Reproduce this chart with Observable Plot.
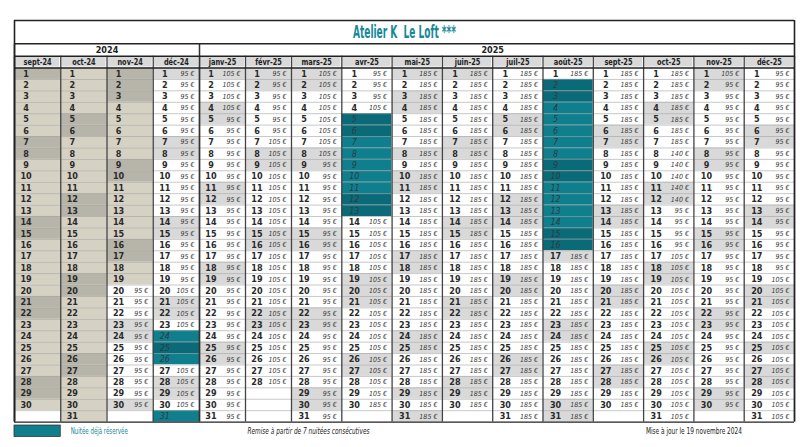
<!DOCTYPE html>
<html>
<head>
<meta charset="utf-8">
<script src="https://cdn.jsdelivr.net/npm/d3@7"></script>
<script src="https://cdn.jsdelivr.net/npm/@observablehq/plot@0.6"></script>
<style>
  body { margin: 0; background: #fff; }
  svg { display: block; }
</style>
</head>
<body>
<div id="chart"></div>
<script>
// ---------- DATA ----------
const title = "Atelier K  Le Loft ***";
const years = ["2024", "2025"];
const months = ["sept-24","oct-24","nov-24","déc-24","janv-25","févr-25","mars-25","avr-25",
                "mai-25","juin-25","juil-25","août-25","sept-25","oct-25","nov-25","déc-25"];
const daysInMonth = [30,31,30,31,31,28,31,30,31,30,31,31,30,31,30,31];
// days already past at the update date (greyed beige)
const pastDays = [30,31,19,0,0,0,0,0,0,0,0,0,0,0,0,0];
// weekend / holiday shaded days per month
const shadedDays = [
  [1,7,8,14,15,21,22,28,29],
  [5,6,12,13,19,20,26,27],
  [1,2,3,9,10,16,17,23,24,30],
  [1,7,8,14,15,21,22,25,28,29],
  [1,4,5,11,12,18,19,25,26],
  [1,2,8,9,15,16,22,23],
  [1,2,8,9,15,16,22,23,29,30],
  [5,6,12,13,19,20,21,26,27],
  [1,3,4,8,10,11,17,18,24,25,29,31],
  [1,7,8,14,15,21,22,28,29],
  [5,6,12,13,14,19,20,26,27],
  [2,3,9,10,15,16,17,23,24,30,31],
  [6,7,13,14,20,21,27,28],
  [4,5,11,12,18,19,25,26],
  [1,2,8,9,15,16,22,23,29,30],
  [6,7,13,14,20,21,25,27,28]
];
// nights already booked
const bookedDays = [
  [], [], [], [24,25,26,31], [], [], [], [5,6,7,8,9,10,11,12,13],
  [], [], [], [2,3,4,5,6,7,8,9,10,11,12,13,14,15,16], [], [], [], []
];
// nightly price (€) per day
const pricesSep24 = [];
const pricesOct24 = [];
const pricesNov24 = [null,null,null,null,null, null,null,null,null,null, null,null,null,null,null, null,null,null,null,
  95,95,95,95,95, 95,95,95,95,95, 95];
const pricesDec24 = [95,95,95,95,95, 95,95,95,95,95, 95,95,95,95,95, 95,95,95,95,
  105,105,105,105, null,null,null, 105,105,105,105, null];
const pricesJan25 = [105,105,105,105,
  95,95,95,95,95, 95,95,95,95,95, 95,95,95,95,95, 95,95,95,95,95, 95,95,95,95,95, 95,95];
const pricesFeb25 = [95,95,95,95,95,95,
  105,105,105,105,105, 105,105,105,105,105, 105,105,105,105,105, 105,105,105,105,105, 105,105];
const pricesMar25 = [105,105,105,105,105,105,105,105,
  95,95,95,95,95, 95,95,95,95,95, 95,95,95,95,95, 95,95,95,95,95, 95,95,95];
const pricesApr25 = [95,95,95,105,
  null,null,null,null,null,null,null,null,null,
  105,105,105,105,105, 105,105,105,105,105, 105,105,105,105,105, 105,
  185];
const pricesMay25 = [185,185,185,185,185, 185,185,185,185,185, 185,185,185,185,185,
  185,185,185,185,185, 185,185,185,185,185, 185,185,185,185,185, 185];
const pricesJun25 = [185,185,185,185,185, 185,185,185,185,185, 185,185,185,185,185,
  185,185,185,185,185, 185,185,185,185,185, 185,185,185,185,185];
const pricesJul25 = [185,185,185,185,185, 185,185,185,185,185, 185,185,185,185,185,
  185,185,185,185,185, 185,185,185,185,185, 185,185,185,185,185, 185];
const pricesAug25 = [185,
  null,null,null,null,null, null,null,null,null,null, null,null,null,null,null,
  185,185,185,185,185, 185,185,185,185,185, 185,185,185,185,185];
const pricesSep25 = [185,185,185,185,185, 185,185,185,185,185, 185,185,185,185,185,
  185,185,185,185,185, 185,185,185,185,185, 185,185,185,185,185];
const pricesOct25 = [185,185,185,185,185,185,185,
  140,140,140,140,140,
  95,95,95,95,
  105,105,105,105,105, 105,105,105,105,105, 105,105,105,105,105];
const pricesNov25 = [105,
  95,95,95,95,95, 95,95,95,95,95, 95,95,95,95,95, 95,95,95,95,95, 95,95,95,95,95, 95,95,95,95];
const pricesDec25 = [95,95,95,95,95, 95,95,95,95,95, 95,95,95,95,95, 95,95,95,
  105,105,105,105,105, 105,105,105,105,105, 105,105,105];
const prices = [pricesSep24, pricesOct24, pricesNov24, pricesDec24, pricesJan25, pricesFeb25,
  pricesMar25, pricesApr25, pricesMay25, pricesJun25, pricesJul25, pricesAug25,
  pricesSep25, pricesOct25, pricesNov25, pricesDec25];

const legendLabel = "Nuitée déjà réservée";
const noteText = "Remise à partir de 7 nuitées consécutives";
const updateText = "Mise à jour le 19 novembre 2024";

// ---------- STYLE ----------
const stateColors = {
  none: "#ffffff", past: "#d5d1c3", pastShaded: "#b7b5a9",
  free: "#ffffff", freeShaded: "#d9d9d9",
  booked: "#0f7f8e", bookedShaded: "#0b6a78"
};
const teal = "#17889a";
const font = '"Liberation Sans Narrow","DejaVu Sans Condensed","Arial Narrow",sans-serif';

// ---------- BUILD ----------
const cells = [];
months.forEach((m, i) => {
  for (let d = 1; d <= 31; d++) {
    let state;
    if (d > daysInMonth[i]) state = "none";
    else {
      const sh = shadedDays[i].includes(d);
      if (d <= pastDays[i]) state = sh ? "pastShaded" : "past";
      else if (bookedDays[i].includes(d)) state = sh ? "bookedShaded" : "booked";
      else state = sh ? "freeShaded" : "free";
    }
    const p = prices[i][d - 1];
    cells.push({m: i, day: d, state, price: (p === undefined ? null : p)});
  }
});
const dayCells = cells.filter(c => c.state !== "none");
const plainDays = dayCells.filter(c => !c.state.startsWith("booked"));
const bookedCells = dayCells.filter(c => c.state.startsWith("booked"));
const priceCells = dayCells.filter(c => c.price != null);

const yearSpans = years.map(y => {
  const idx = months.map((m, i) => m.endsWith(y.slice(2)) ? i : -1).filter(i => i >= 0);
  return {year: y, x1: idx[0], x2: idx[idx.length - 1] + 1};
});
const monthEdges = d3.range(months.length + 1);
const rowEdges = d3.range(1, 31);

const chart = Plot.plot({
  width: 810,
  height: 447,
  margin: 0,
  style: {fontFamily: font, background: "#fff"},
  x: {type: "linear", domain: [0, 4, 6, 16], range: [14, 199, 291, 794], axis: null},
  y: {type: "linear", domain: [-4, -2, -1, 0, 31], range: [20, 43.3, 55.7, 67.5, 421.6], axis: null},
  color: {domain: Object.keys(stateColors), range: Object.values(stateColors)},
  marks: [
    // day cells
    Plot.rect(cells, {x1: "m", x2: d => d.m + 1, y1: d => d.day - 1, y2: "day", fill: "state"}),
    // row separators
    Plot.ruleY(rowEdges, {x1: 0, x2: 16, stroke: "#a3a3a3", strokeWidth: 0.6}),
    // month header cells
    Plot.rect(months, {x1: (d, i) => i, x2: (d, i) => i + 1, y1: -1, y2: 0, fill: "#d9d9d9", inset: 1}),
    Plot.text(months, {x: (d, i) => i + 0.5, y: -0.5, text: d => d, fontWeight: "bold", fontSize: 8.5, fill: "#222", className: "fit-month"}),
    // years
    Plot.text(yearSpans, {x: d => (d.x1 + d.x2) / 2, y: -1.5, text: "year", fontWeight: "bold", fontSize: 9, fill: "#222"}),
    // title
    Plot.text([title], {y: -3, frameAnchor: "middle", dx: -1, text: d => d, fontWeight: "bold", fontSize: 17, fill: teal, className: "fit-title"}),
    // vertical borders
    Plot.ruleX(monthEdges, {y1: -1, y2: 31, stroke: "#444", strokeWidth: 1.3}),
    Plot.ruleX(yearSpans.map(d => d.x1), {y1: -2, y2: 31, stroke: "#333", strokeWidth: 1.5}),
    Plot.ruleX([0, 16], {y1: -4, y2: 31, stroke: "#222", strokeWidth: 1.6}),
    // horizontal borders
    Plot.ruleY([-4, -2, -1, 0, 31], {x1: 0, x2: 16, stroke: "#222", strokeWidth: 1.4}),
    // day numbers
    Plot.text(plainDays, {x: d => d.m + 0.25, y: d => d.day - 0.5, text: d => String(d.day), fontSize: 9, fontWeight: "bold", fill: "#2a2a2a"}),
    Plot.text(bookedCells, {x: d => d.m + 0.25, y: d => d.day - 0.5, text: d => String(d.day), fontSize: 9, fontStyle: "italic", fill: "#2c3b40"}),
    // prices
    Plot.text(priceCells, {x: d => d.m + 1, dx: -5, y: d => d.day - 0.5, text: d => d.price + " €", textAnchor: "end", fontSize: 7, fontStyle: "italic", fill: "#3a3a3a"}),
    // legend
    Plot.rect([legendLabel], {x1: 0, x2: 1, y1: 31.3, y2: 32.3, fill: stateColors.booked, stroke: "#333", strokeWidth: 0.8}),
    Plot.text([legendLabel], {x: 1, dx: 10, y: 31.8, text: d => d, textAnchor: "start", fontSize: 8.5, fill: teal, className: "fit-legend"}),
    Plot.text([noteText], {x: 5, dx: 2, y: 31.8, text: d => d, textAnchor: "start", fontSize: 8, fontStyle: "italic", fill: "#222", className: "fit-note"}),
    Plot.text([updateText], {x: 14, y: 31.8, text: d => d, fontSize: 8, fill: "#222", className: "fit-update"})
  ]
});
document.getElementById("chart").appendChild(chart);

// fit text widths to the reference's narrow font
const fit = (cls, len) => d3.select(chart).selectAll(`.${cls} text`)
  .attr("textLength", len).attr("lengthAdjust", "spacingAndGlyphs");
fit("fit-title", 103);
fit("fit-legend", 57);
fit("fit-note", 122);
fit("fit-update", 96);
d3.select(chart).selectAll(".fit-month text").each(function () {
  const w = this.getComputedTextLength();
  d3.select(this).attr("textLength", w * 0.86).attr("lengthAdjust", "spacingAndGlyphs");
});
</script>
</body>
</html>
